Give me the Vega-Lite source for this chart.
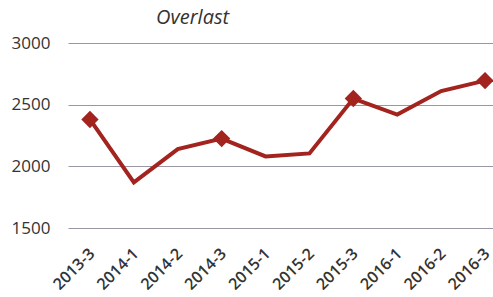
{
  "$schema": "https://vega.github.io/schema/vega-lite/v6.json",
  "width": 439,
  "height": 185,
  "autosize": {"type": "none"},
  "padding": {"left": 68, "top": 43, "right": 0, "bottom": 69},
  "background": "white",
  "title": {
    "text": "Overlast",
    "font": "Open Sans",
    "fontStyle": "italic",
    "fontWeight": "normal",
    "fontSize": 20,
    "color": "#333333",
    "anchor": "start",
    "dx": 145,
    "offset": 6
  },
  "data": {
    "values": [
      {"period": "2013-3", "value": 2380},
      {"period": "2014-1", "value": 1870},
      {"period": "2014-2", "value": 2140},
      {"period": "2014-3", "value": 2225},
      {"period": "2015-1", "value": 2080},
      {"period": "2015-2", "value": 2105},
      {"period": "2015-3", "value": 2550},
      {"period": "2016-1", "value": 2420},
      {"period": "2016-2", "value": 2610},
      {"period": "2016-3", "value": 2695}
    ]
  },
  "config": {
    "view": {"stroke": null},
    "axis": {
      "labelFont": "Open Sans",
      "labelColor": "#333333",
      "domain": false,
      "ticks": false,
      "title": null
    }
  },
  "layer": [
    {
      "mark": {"type": "line", "color": "#a3231f", "strokeWidth": 4, "strokeJoin": "miter"},
      "encoding": {
        "x": {
          "field": "period",
          "type": "ordinal",
          "sort": null,
          "scale": {"type": "point", "padding": 0.5},
          "axis": {"labelAngle": -45, "labelFontSize": 16, "labelFontWeight": 600, "labelPadding": 17, "labelOffset": -4, "grid": false}
        },
        "y": {
          "field": "value",
          "type": "quantitative",
          "scale": {"domain": [1500, 3000], "nice": false, "zero": false},
          "axis": {"values": [1500, 2000, 2500, 3000], "format": "d", "labelFontSize": 17, "labelPadding": 18, "grid": true, "gridColor": "#9a96a6", "gridWidth": 1.2}
        }
      }
    },
    {
      "transform": [{"filter": {"field": "period", "oneOf": ["2013-3", "2014-3", "2015-3", "2016-3"]}}],
      "mark": {"type": "point", "shape": "diamond", "filled": true, "color": "#a3231f", "size": 300, "opacity": 1},
      "encoding": {
        "x": {"field": "period", "type": "ordinal", "sort": null},
        "y": {"field": "value", "type": "quantitative"}
      }
    }
  ]
}
